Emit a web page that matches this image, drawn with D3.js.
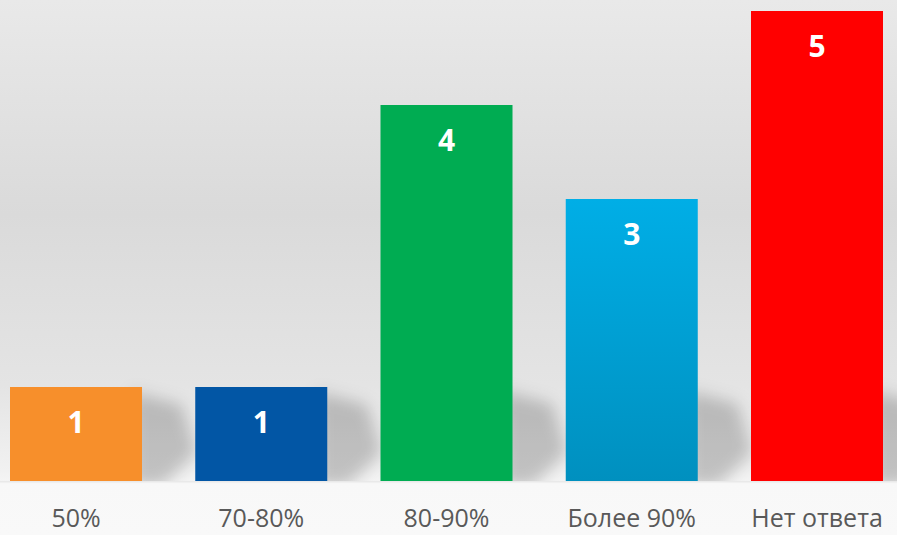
<!DOCTYPE html>
<html><head><meta charset="utf-8">
<script src="https://cdn.jsdelivr.net/npm/d3@7"></script>
<style>html,body{margin:0;padding:0;background:#fff;}svg{display:block;}</style>
</head><body>
<svg id="chart" width="897" height="535"></svg>
<script>
const categories = ["50%", "70-80%", "80-90%", "Более 90%", "Нет ответа"];
const values = [1, 1, 4, 3, 5];
const colors = ["#F78F2B", "#0256A5", "#00AC52", "url(#gradBlue)", "#FF0000"];

const W = 897, H = 535;
const svg = d3.select("#chart");
const defs = svg.append("defs");

const bg = defs.append("linearGradient").attr("id", "bg").attr("x1", 0).attr("y1", 0).attr("x2", 0).attr("y2", 1);
[[0, "#e9e9e9"], [0.4, "#dadada"], [0.72, "#e4e4e4"], [0.88, "#f1f1f1"], [0.898, "#f4f4f4"], [0.9, "#e9e9e9"], [0.904, "#f8f8f8"], [1, "#f9f9f9"]]
  .forEach(([o, c]) => bg.append("stop").attr("offset", o).attr("stop-color", c));

const gb = defs.append("linearGradient").attr("id", "gradBlue").attr("x1", 0).attr("y1", 0).attr("x2", 0).attr("y2", 1);
gb.append("stop").attr("offset", 0).attr("stop-color", "#00AEE6");
gb.append("stop").attr("offset", 1).attr("stop-color", "#0090BF");

defs.append("filter").attr("id", "blur").attr("x", "-50%").attr("y", "-50%").attr("width", "200%").attr("height", "200%")
  .append("feGaussianBlur").attr("stdDeviation", 8);

defs.append("clipPath").attr("id", "floorClip").append("rect").attr("x", 0).attr("y", 0).attr("width", W).attr("height", 481);

svg.append("rect").attr("width", W).attr("height", H).attr("fill", "url(#bg)");

const x = d3.scaleBand().domain(categories).range([10, 883]).paddingInner(0.2874).paddingOuter(0);
const y = d3.scaleLinear().domain([0, 5]).range([481, 11]);
const base = y(0);

// shadows
svg.append("g").attr("clip-path", "url(#floorClip)").selectAll("path").data(categories).join("path")
  .attr("d", (c, i) => {
    const x1 = x(c) + x.bandwidth();
    const hs = Math.min(base - y(values[i]), 95);
    const top = base - hs;
    return `M${x1 - 10},${base + 5} L${x1 - 10},${top + 5} L${x1 + 40},${top + 18} L${x1 + 55},${base - hs * 0.3} L${x1 + 20},${base + 5} Z`;
  })
  .attr("fill", "rgba(0,0,0,0.2)")
  .attr("filter", "url(#blur)");

// bars
svg.append("g").selectAll("rect").data(categories).join("rect")
  .attr("x", c => x(c))
  .attr("y", (c, i) => y(values[i]))
  .attr("width", x.bandwidth())
  .attr("height", (c, i) => base - y(values[i]))
  .attr("fill", (c, i) => colors[i]);

// value labels
svg.append("g").selectAll("text").data(categories).join("text")
  .attr("x", c => x(c) + x.bandwidth() / 2)
  .attr("y", (c, i) => y(values[i]) + 46)
  .attr("text-anchor", "middle")
  .attr("fill", "#ffffff")
  .attr("font-family", "'Open Sans', sans-serif")
  .attr("font-weight", "bold")
  .attr("font-size", 30)
  .text((c, i) => values[i]);

// category axis
const axis = d3.axisBottom(x).tickSize(0).tickPadding(0);
const ag = svg.append("g").attr("transform", `translate(0,${base})`).call(axis);
ag.select(".domain").remove();
ag.selectAll("text")
  .attr("y", 46)
  .attr("dy", 0)
  .attr("fill", "#595959")
  .attr("font-family", "'Open Sans', sans-serif")
  .attr("font-size", 25);
</script>
</body></html>
